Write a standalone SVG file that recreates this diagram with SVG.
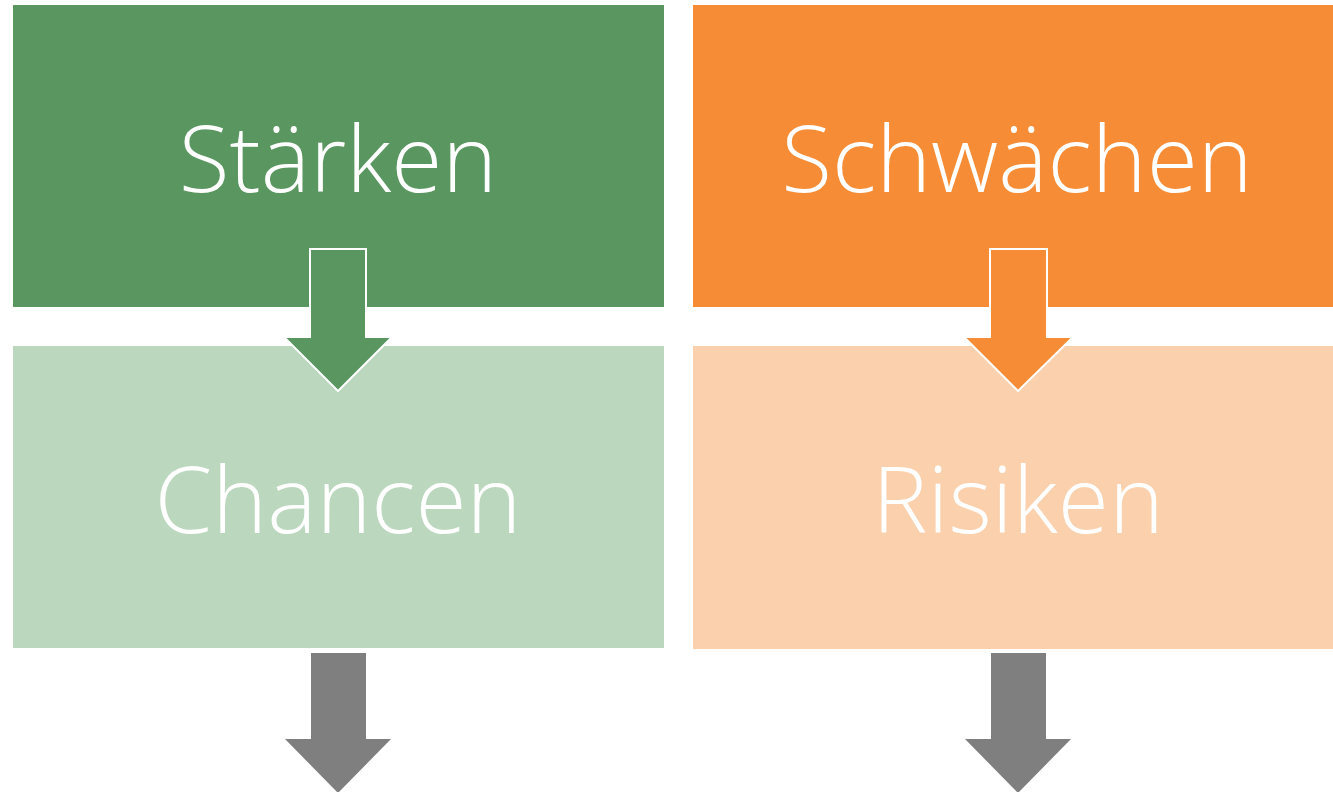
<svg xmlns="http://www.w3.org/2000/svg" width="1333" height="792" viewBox="0 0 1333 792">
  <style>
    .label { font-family: "Open Sans", "Liberation Sans", sans-serif; font-weight: 300; font-size: 93px; fill: #ffffff; text-anchor: middle; }
    .down { stroke: #ffffff; stroke-width: 2; }
  </style>
  <rect width="1333" height="792" fill="#ffffff"/>
  <g id="staerken">
    <rect x="13" y="5" width="651" height="302" fill="#5A9660"/>
    <text class="label" x="338" y="192">Stärken</text>
  </g>
  <g id="schwaechen">
    <rect x="693" y="5" width="640" height="302" fill="#F68D36"/>
    <text class="label" x="1017" y="192">Schwächen</text>
  </g>
  <g id="chancen">
    <rect x="13" y="346" width="651" height="302" fill="#BBD7BE"/>
    <text class="label" x="338" y="533">Chancen</text>
  </g>
  <g id="risiken">
    <rect x="693" y="346" width="640" height="303" fill="#FAD0AD"/>
    <text class="label" x="1018" y="533">Risiken</text>
  </g>
  <g id="connectors">
    <polygon class="down" fill="#5A9660" points="310,249 366,249 366,337 392,337 338,391 284,337 310,337"/>
    <polygon class="down" fill="#F68D36" points="990,249 1047,249 1047,337 1073,337 1018,391 964,337 990,337"/>
    <polygon fill="#7F7F7F" points="311,653 366,653 366,739 391,739 338,793 285,739 311,739"/>
    <polygon fill="#7F7F7F" points="991,653 1046,653 1046,739 1071,739 1018,793 965,739 991,739"/>
  </g>
</svg>
